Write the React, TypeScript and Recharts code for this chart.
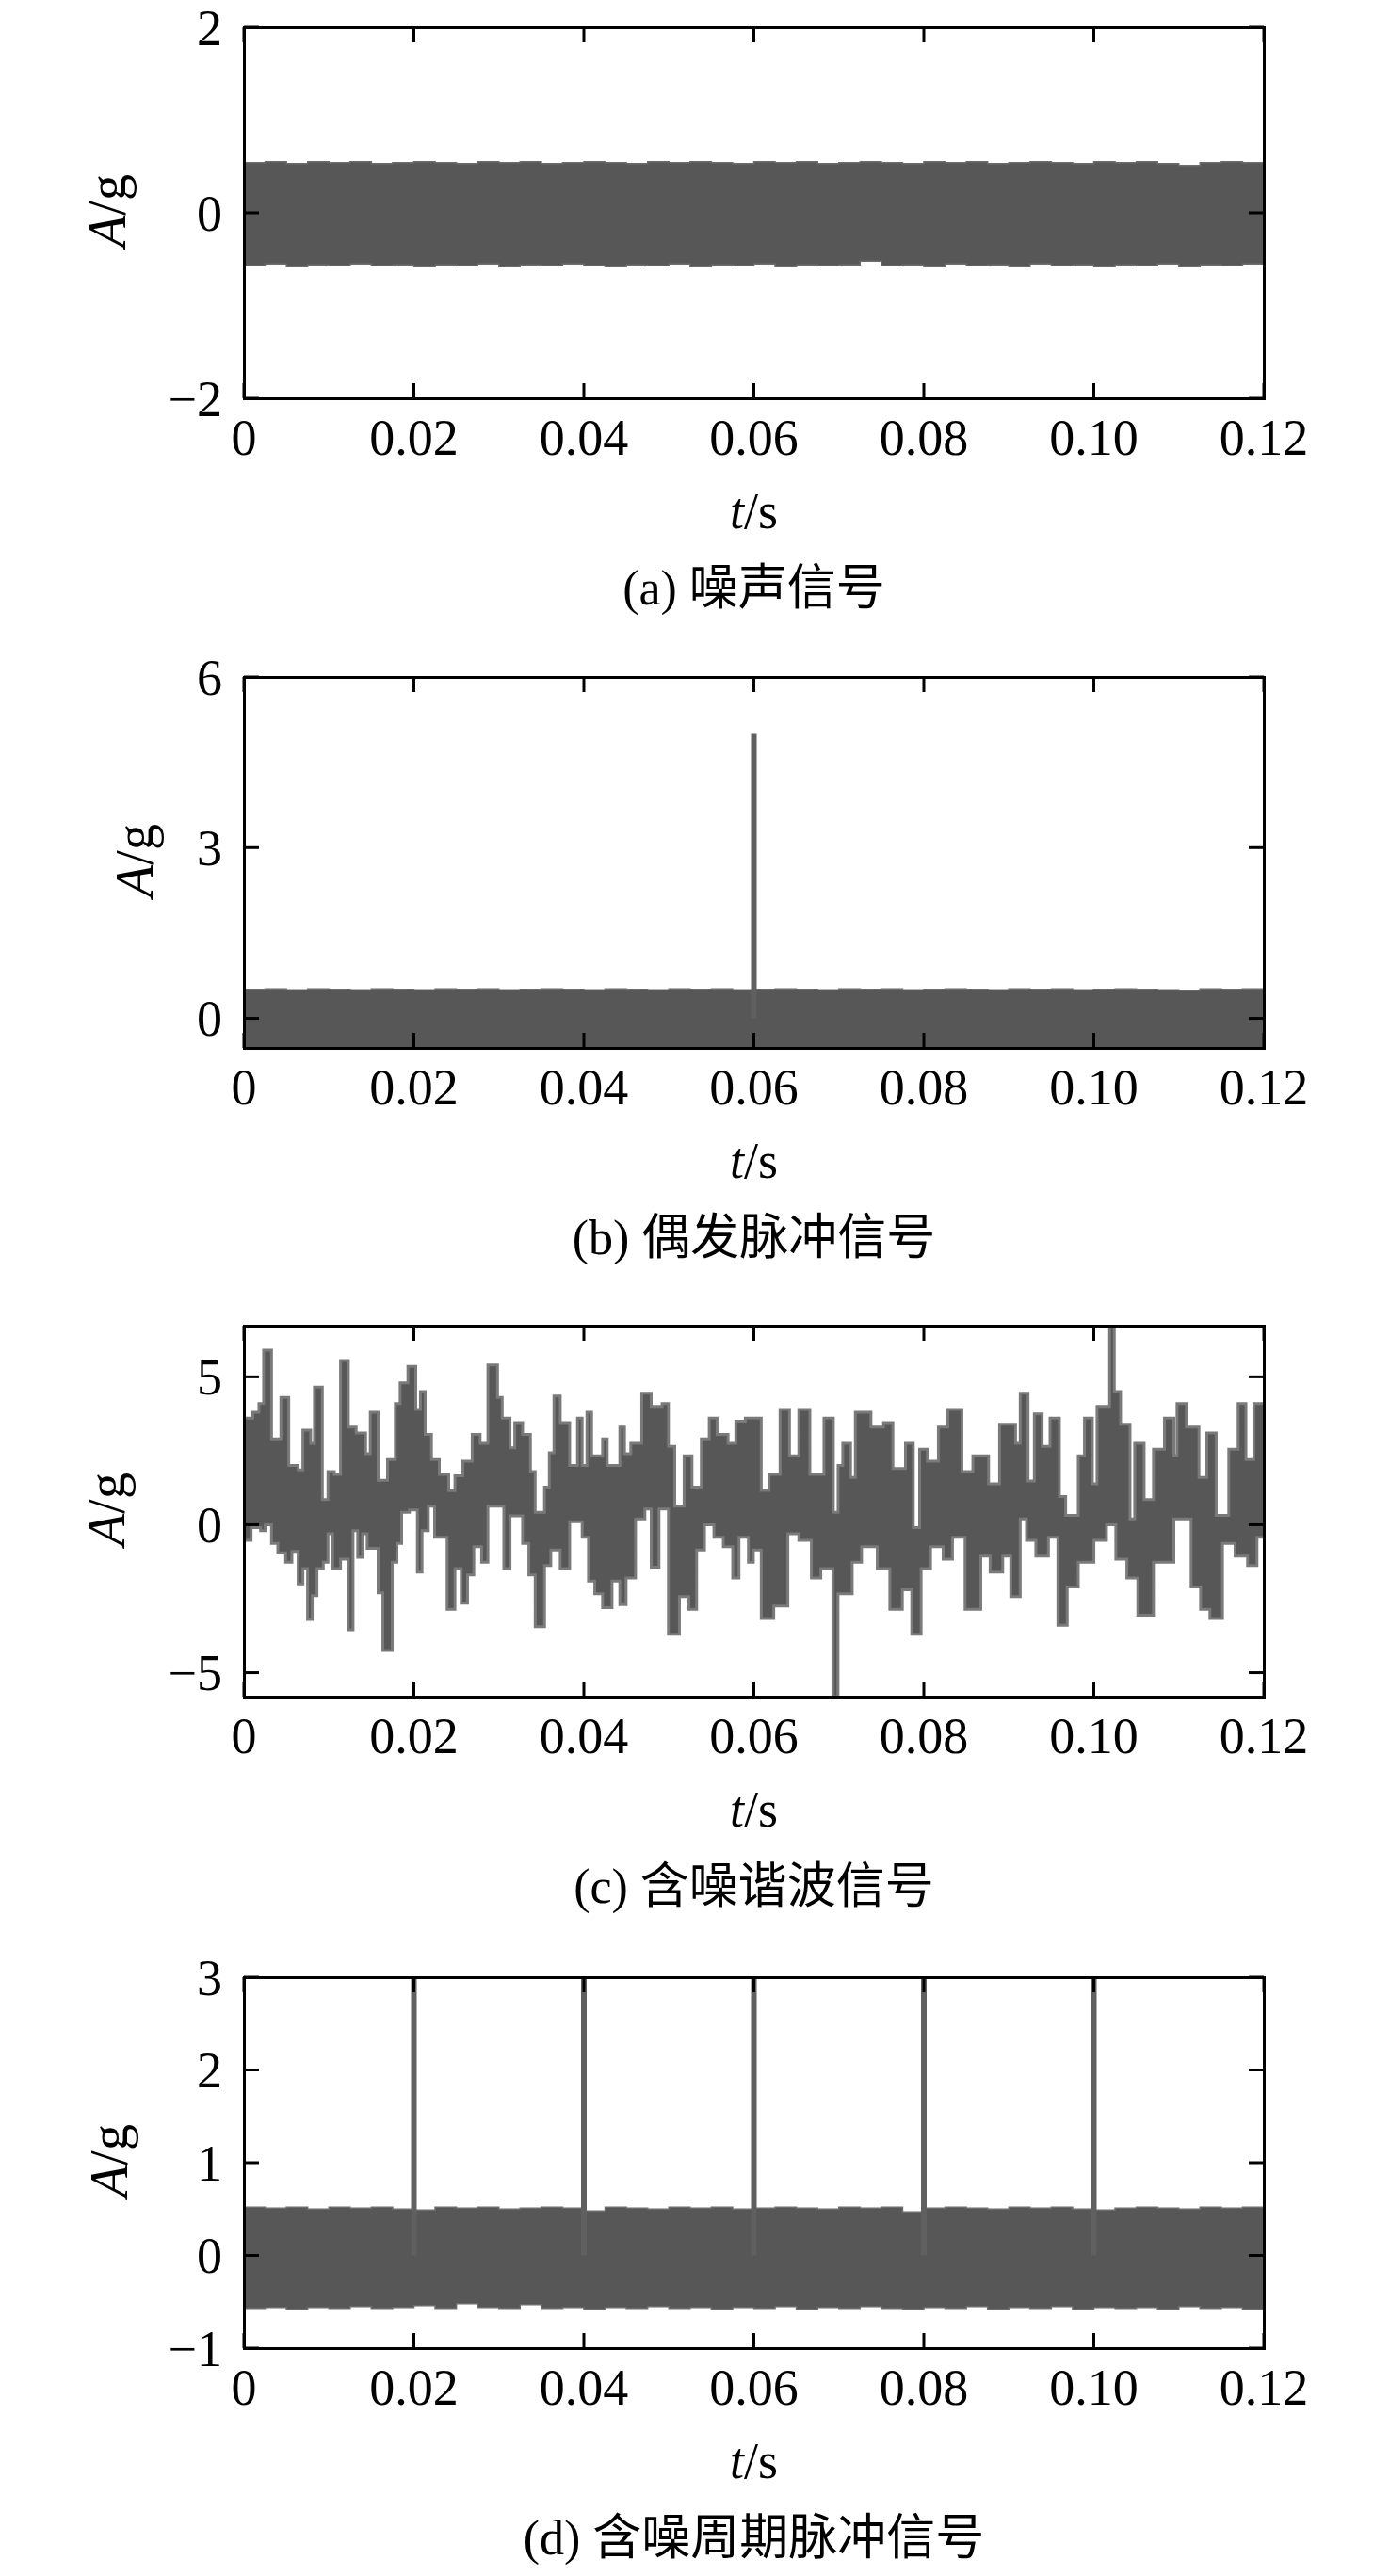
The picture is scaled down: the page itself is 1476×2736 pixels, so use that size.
import React from "react";
import { ComposedChart, Area, Line, XAxis, YAxis } from "recharts";

const W = 1476;
const PANEL_H = 690;
const FONT = '"Liberation Serif", "Times New Roman", "Noto Sans CJK SC", serif';
const INK = "#000";
const BAND = "#575757";

// plot box inside each panel (layout only)
const PLOT_LEFT = 259;
const PLOT_TOP = 29;
const PLOT_W = 1083;
const PLOT_H = 394;
const TICK_LEN = 16;

// time axis (seconds)
const xTicks = [0, 0.02, 0.04, 0.06, 0.08, 0.1, 0.12];

// sample times of the noise envelopes (ms)
const noiseMs = [
  0, 2.5, 5, 7.5, 10, 12.5, 15,
  17.5, 20, 22.5, 25, 27.5, 30, 32.5,
  35, 37.5, 40, 42.5, 45, 47.5, 50,
  52.5, 55, 57.5, 60, 62.5, 65, 67.5,
  70, 72.5, 75, 77.5, 80, 82.5, 85,
  87.5, 90, 92.5, 95, 97.5, 100, 102.5,
  105, 107.5, 110, 112.5, 115, 117.5, 120,
];

// (a) noise
const aUpper = [
  0.54, 0.55, 0.53, 0.55, 0.54, 0.55, 0.53,
  0.54, 0.55, 0.54, 0.53, 0.55, 0.54, 0.55,
  0.53, 0.54, 0.55, 0.54, 0.53, 0.55, 0.54,
  0.55, 0.54, 0.53, 0.55, 0.54, 0.55, 0.53,
  0.54, 0.55, 0.54, 0.53, 0.55, 0.54, 0.55,
  0.53, 0.54, 0.55, 0.54, 0.53, 0.55, 0.54,
  0.55, 0.53, 0.51, 0.54, 0.55, 0.54, 0.55,
];
const aLower = [
  -0.57, -0.55, -0.58, -0.56, -0.57, -0.55, -0.57,
  -0.56, -0.58, -0.56, -0.57, -0.55, -0.58, -0.56,
  -0.57, -0.55, -0.57, -0.58, -0.56, -0.57, -0.55,
  -0.58, -0.56, -0.57, -0.55, -0.58, -0.56, -0.57,
  -0.56, -0.52, -0.57, -0.56, -0.58, -0.55, -0.57,
  -0.56, -0.58, -0.55, -0.57, -0.56, -0.58, -0.56,
  -0.57, -0.55, -0.58, -0.56, -0.57, -0.55, -0.57,
];

// (b) noise + single impulse
const bUpper = [
  0.51, 0.52, 0.5, 0.52, 0.51, 0.5, 0.52,
  0.51, 0.5, 0.52, 0.51, 0.52, 0.5, 0.51,
  0.52, 0.51, 0.5, 0.52, 0.51, 0.5, 0.52,
  0.51, 0.52, 0.5, 0.51, 0.52, 0.51, 0.5,
  0.52, 0.51, 0.52, 0.5, 0.51, 0.52, 0.51,
  0.5, 0.52, 0.51, 0.52, 0.5, 0.51, 0.52,
  0.51, 0.5, 0.49, 0.52, 0.51, 0.52, 0.51,
];
const bLower = [
  -0.58, -0.57, -0.58, -0.56, -0.58, -0.57, -0.58,
  -0.57, -0.58, -0.56, -0.58, -0.57, -0.58, -0.57,
  -0.58, -0.56, -0.58, -0.57, -0.58, -0.57, -0.56,
  -0.58, -0.57, -0.58, -0.56, -0.58, -0.57, -0.58,
  -0.57, -0.58, -0.56, -0.58, -0.57, -0.58, -0.57,
  -0.56, -0.58, -0.57, -0.58, -0.56, -0.58, -0.57,
  -0.58, -0.57, -0.58, -0.56, -0.58, -0.57, -0.58,
];
const bPulseT = [0.06];
const bPulseA = [5.0];

// (c) noisy harmonic: step envelopes [ms, value]
const cUpper = [
  [0, 3.6], [1.03, 3.8], [1.77, 4.1], [2.32, 5.9], [3.25, 2.9], [4.35, 4.3],
  [5.28, 2.0], [6.38, 1.85], [6.94, 3.2], [7.86, 2.75], [8.3, 4.65], [9.23, 0.85],
  [9.89, 1.8], [10.63, 1.7], [11.37, 5.55], [12.29, 3.3], [13.21, 3.1], [14.32, 2.4],
  [14.87, 3.8], [15.79, 1.5], [16.9, 2.2], [17.82, 4.1], [18.38, 4.8], [19.3, 5.35],
  [20.22, 3.9], [20.77, 4.5], [21.33, 3.05], [22.07, 2.2], [22.99, 1.7], [24.1, 1.15],
  [24.83, 1.65], [25.76, 2.15], [26.86, 3.05], [27.79, 2.75], [28.71, 5.4], [29.84, 4.3],
  [30.39, 3.6], [31.31, 2.6], [31.87, 3.45], [32.79, 3.05], [33.71, 1.8], [34.27, 0.42],
  [35.37, 1.27], [35.93, 2.43], [36.48, 4.35], [37.22, 3.45], [38.33, 2.0], [39.25, 3.6],
  [39.8, 2.0], [40.36, 3.8], [40.91, 2.33], [42.2, 2.9], [42.75, 2.0], [44.23, 3.3],
  [44.78, 2.4], [45.52, 2.75], [46.81, 4.45], [47.92, 4.0], [49.21, 4.1], [49.95, 2.65],
  [50.69, 0.63], [51.79, 2.33], [52.72, 1.27], [53.82, 2.9], [54.75, 3.6], [55.67, 3.05],
  [56.96, 2.75], [57.88, 3.5], [58.99, 3.6], [60.87, 1.16], [61.79, 1.7], [63.08, 3.9],
  [64.19, 2.33], [65.29, 3.9], [66.59, 1.7], [68.25, 3.6], [69.35, 0.42], [69.91, 2.0],
  [70.46, 2.75], [71.38, 1.6], [71.94, 3.8], [73.78, 3.3], [75.26, 3.45], [76.36, 1.9],
  [77.84, 2.75], [78.76, -0.1], [79.5, 2.55], [80.42, 2.15], [81.71, 3.3], [82.82, 3.9],
  [84.48, 1.8], [85.77, 2.33], [87.62, 1.38], [88.91, 3.4], [90.79, 2.75], [91.34, 4.45],
  [92.26, 1.48], [93.0, 3.75], [93.92, 2.65], [94.85, 3.6], [95.95, 0.95], [96.69, 0.32],
  [98.17, 2.33], [98.9, 3.6], [99.83, 1.38], [100.38, 4.0], [101.86, 6.73], [102.41, 4.5],
  [103.15, 3.4], [104.26, 0.2], [104.81, 2.75], [105.92, 0.85], [107.02, 2.55], [108.31, 3.6],
  [109.42, 2.33], [109.79, 4.1], [110.9, 3.3], [112.37, 1.6], [113.3, 3.1], [114.4, 0.32],
  [115.88, 2.55], [116.98, 4.1], [117.9, 2.2], [118.83, 4.1],
];
const cLower = [
  [0, -0.53], [0.85, -0.1], [1.96, -0.2], [2.51, 0.0], [3.25, -0.63], [3.99, -0.95],
  [4.91, -1.27], [5.65, -0.9], [6.38, -2.0], [6.94, -1.48], [7.49, -3.2], [8.04, -2.4],
  [8.6, -1.48], [9.34, -1.27], [9.89, -0.3], [10.44, -1.48], [11.37, -1.16], [12.29, -3.55],
  [12.84, -0.2], [13.39, -1.1], [13.95, -0.3], [14.5, -0.8], [15.79, -2.3], [16.35, -4.25],
  [17.45, -1.27], [18.01, -0.63], [18.56, 0.42], [19.48, 0.5], [20.41, -1.6], [20.96, -0.2],
  [21.7, 0.63], [22.44, -0.42], [23.91, -2.86], [24.83, -1.48], [25.57, -2.65], [26.31, -1.7],
  [27.05, -0.74], [27.97, -1.27], [28.71, 0.63], [30.58, -1.48], [31.31, 0.3], [32.79, -0.63],
  [33.53, -1.7], [34.27, -3.45], [35.37, -1.38], [36.11, -0.85], [37.22, -1.48], [38.33, 0.1],
  [39.8, -0.42], [40.54, -1.9], [41.28, -2.33], [42.2, -2.8], [43.31, -1.9], [44.23, -2.7],
  [44.97, -1.8], [46.08, 0.2], [47.18, 0.53], [47.92, -1.43], [48.84, 0.53], [49.95, -3.7],
  [51.24, -2.43], [52.35, -2.86], [53.27, -0.85], [54.19, 0.0], [55.3, -0.42], [56.41, -0.74],
  [57.51, -1.8], [58.25, -0.42], [59.36, -1.27], [59.94, -0.85], [60.87, -3.17], [62.34, -2.75],
  [64.0, -0.3], [65.29, -0.53], [66.77, -1.8], [67.88, -1.48], [69.3, -5.81], [69.9, -2.33],
  [71.57, -1.27], [72.67, -0.74], [74.52, -1.48], [76.0, -2.86], [77.47, -2.2], [78.58, -3.7],
  [79.68, -1.48], [80.79, -0.74], [82.27, -1.16], [83.37, -0.42], [84.85, -2.86], [86.7, -1.06],
  [87.8, -1.6], [89.28, -1.06], [90.23, -2.43], [91.34, 0.2], [92.08, -0.53], [93.18, -1.06],
  [94.66, -0.42], [95.77, -3.4], [96.87, -2.1], [98.17, -1.27], [100.01, -0.53], [101.49, 0.0],
  [102.59, -1.16], [103.89, -1.8], [105.18, -3.06], [107.02, -1.27], [109.42, 0.2], [111.45, -2.1],
  [112.56, -2.86], [113.66, -3.17], [115.14, -0.63], [116.62, -1.06], [118.09, -1.38], [119.2, -0.42],
];

// (d) noise + periodic impulses
const dUpper = [
  0.52, 0.51, 0.52, 0.5, 0.52, 0.51, 0.52,
  0.5, 0.49, 0.52, 0.51, 0.52, 0.5, 0.51,
  0.52, 0.51, 0.48, 0.52, 0.51, 0.5, 0.52,
  0.51, 0.52, 0.5, 0.51, 0.52, 0.51, 0.5,
  0.52, 0.51, 0.52, 0.47, 0.51, 0.52, 0.51,
  0.5, 0.52, 0.51, 0.52, 0.5, 0.49, 0.51,
  0.52, 0.51, 0.5, 0.52, 0.51, 0.52, 0.51,
];
const dLower = [
  -0.57, -0.56, -0.58, -0.56, -0.57, -0.55, -0.57,
  -0.56, -0.54, -0.57, -0.52, -0.56, -0.57, -0.53,
  -0.57, -0.56, -0.58, -0.56, -0.57, -0.55, -0.57,
  -0.56, -0.58, -0.56, -0.57, -0.55, -0.58, -0.56,
  -0.57, -0.55, -0.57, -0.58, -0.56, -0.57, -0.55,
  -0.58, -0.56, -0.57, -0.55, -0.58, -0.56, -0.57,
  -0.56, -0.58, -0.55, -0.57, -0.56, -0.58, -0.56,
];
const dPulseT = [0.02, 0.04, 0.06, 0.08, 0.1];
const dPulseA = [3.2, 3.2, 3.2, 3.2, 3.2];

const fmtX = (v: number) => (v === 0 ? "0" : v.toFixed(2));
const fmtY = (v: number) => String(v).replace("-", "\u2212");

type Row = { t: number; range: [number, number] };

function bandRows(ms: number[], up: number[], lo: number[]): Row[] {
  return ms.map((m, i) => ({ t: m / 1000, range: [lo[i], up[i]] }));
}

// merge two step envelopes that change at different times
function stepRows(upper: number[][], lower: number[][]): Row[] {
  const at = (list: number[][], m: number) => {
    let v = list[0][1];
    for (const [tm, val] of list) if (tm <= m) v = val;
    return v;
  };
  const times = Array.from(
    new Set([...upper.map((p) => p[0]), ...lower.map((p) => p[0]), 120])
  ).sort((a, b) => a - b);
  return times.map((m) => ({ t: m / 1000, range: [at(lower, m), at(upper, m)] }));
}

function pulseRows(ts: number[], amps: number[]) {
  const rows: { t: number; v: number | null }[] = [];
  ts.forEach((t, i) => {
    rows.push({ t, v: 0 });
    rows.push({ t, v: amps[i] });
    rows.push({ t: t + 0.0005, v: null });
  });
  return rows;
}

const X_GAP = 22;
const Y_GAP = 23;

// bottom label + inward ticks on bottom and top edges
const XTick = (props: any) => {
  const { x, y, payload } = props;
  const base = y - X_GAP;
  return (
    <g>
      <line x1={x} x2={x} y1={base} y2={base - TICK_LEN} stroke={INK} strokeWidth={3} />
      <line x1={x} x2={x} y1={PLOT_TOP} y2={PLOT_TOP + TICK_LEN} stroke={INK} strokeWidth={3} />
      <text x={x} y={y} dy="0.71em" textAnchor="middle" fill={INK} fontSize={54} fontFamily={FONT}>
        {fmtX(payload.value)}
      </text>
    </g>
  );
};

// left label + inward ticks on left and right edges
const YTick = (props: any) => {
  const { x, y, payload } = props;
  const right = PLOT_LEFT + PLOT_W;
  return (
    <g>
      <line x1={PLOT_LEFT} x2={PLOT_LEFT + TICK_LEN} y1={y} y2={y} stroke={INK} strokeWidth={3} />
      <line x1={right} x2={right - TICK_LEN} y1={y} y2={y} stroke={INK} strokeWidth={3} />
      <text x={x} y={y} dy="0.35em" textAnchor="end" fill={INK} fontSize={54} fontFamily={FONT}>
        {fmtY(payload.value)}
      </text>
    </g>
  );
};

type PanelProps = {
  top: number;
  domain: [number, number];
  yTicks: number[];
  band: Row[];
  pulse?: { t: number; v: number | null }[];
  ylx: number;
  caption: string;
  edge?: string;
  edgeWidth?: number;
};

function Panel({ top, domain, yTicks, band, pulse, ylx, caption, edge = "#6c6c6c", edgeWidth = 1.5 }: PanelProps) {
  const cx = PLOT_LEFT + PLOT_W / 2;
  return (
    <div style={{ position: "absolute", left: 0, top, width: W, height: PANEL_H }}>
      <ComposedChart
        width={W}
        height={PANEL_H}
        margin={{ top: PLOT_TOP, right: W - PLOT_LEFT - PLOT_W, bottom: PANEL_H - PLOT_TOP - PLOT_H - 60, left: PLOT_LEFT - 80 }}
      >
        <Area
          data={band}
          dataKey="range"
          type="stepAfter"
          fill={BAND}
          fillOpacity={1}
          stroke={edge}
          strokeWidth={edgeWidth}
          dot={false}
          activeDot={false}
          isAnimationActive={false}
        />
        {pulse && (
          <Line
            data={pulse}
            dataKey="v"
            type="linear"
            stroke="#606060"
            strokeWidth={6}
            dot={false}
            activeDot={false}
            connectNulls={false}
            isAnimationActive={false}
          />
        )}
        <XAxis
          dataKey="t"
          type="number"
          domain={[0, 0.12]}
          ticks={xTicks}
          height={60}
          tickSize={0}
          tickMargin={X_GAP}
          axisLine={false}
          tickLine={false}
          tick={<XTick />}
          interval={0}
          allowDataOverflow
        />
        <YAxis
          type="number"
          domain={domain}
          ticks={yTicks}
          width={80}
          tickSize={0}
          tickMargin={Y_GAP}
          axisLine={false}
          tickLine={false}
          tick={<YTick />}
          interval={0}
          allowDataOverflow
        />
      </ComposedChart>
      <div
        style={{
          position: "absolute",
          left: PLOT_LEFT - 1.5,
          top: PLOT_TOP - 1.5,
          width: PLOT_W + 3,
          height: PLOT_H + 3,
          border: `3px solid ${INK}`,
          boxSizing: "border-box",
          pointerEvents: "none",
        }}
      />
      <div
        style={{
          position: "absolute",
          left: ylx,
          top: 224,
          transform: "translate(-50%, -50%) rotate(-90deg)",
          fontFamily: FONT,
          fontSize: 56,
          lineHeight: 1,
          whiteSpace: "nowrap",
        }}
      >
        <span style={{ fontStyle: "italic" }}>A</span>/g
      </div>
      <div
        style={{
          position: "absolute",
          left: cx,
          top: 543,
          transform: "translate(-50%, -50%)",
          fontFamily: FONT,
          fontSize: 54,
          lineHeight: 1,
          whiteSpace: "nowrap",
        }}
      >
        <span style={{ fontStyle: "italic" }}>t</span>/s
      </div>
      <div
        style={{
          position: "absolute",
          left: cx,
          top: 625,
          transform: "translate(-50%, -50%)",
          fontFamily: FONT,
          fontSize: 52,
          lineHeight: 1,
          whiteSpace: "nowrap",
        }}
      >
        {caption}
      </div>
    </div>
  );
}

export default function App() {
  return (
    <div style={{ position: "absolute", left: 0, top: 0, width: W, height: 2736, background: "#fff" }}>
      <Panel
        top={0}
        domain={[-2, 2]}
        yTicks={[-2, 0, 2]}
        band={bandRows(noiseMs, aUpper, aLower)}
        ylx={114}
        caption="(a) 噪声信号"
      />
      <Panel
        top={690}
        domain={[-0.52, 6]}
        yTicks={[0, 3, 6]}
        band={bandRows(noiseMs, bUpper, bLower)}
        pulse={pulseRows(bPulseT, bPulseA)}
        ylx={143}
        caption="(b) 偶发脉冲信号"
      />
      <Panel
        top={1379}
        domain={[-5.81, 6.73]}
        yTicks={[-5, 0, 5]}
        band={stepRows(cUpper, cLower)}
        ylx={113}
        caption="(c) 含噪谐波信号"
        edge="#7a7a7a"
        edgeWidth={3}
      />
      <Panel
        top={2071}
        domain={[-1, 3]}
        yTicks={[-1, 0, 1, 2, 3]}
        band={bandRows(noiseMs, dUpper, dLower)}
        pulse={pulseRows(dPulseT, dPulseA)}
        ylx={116}
        caption="(d) 含噪周期脉冲信号"
      />
    </div>
  );
}
